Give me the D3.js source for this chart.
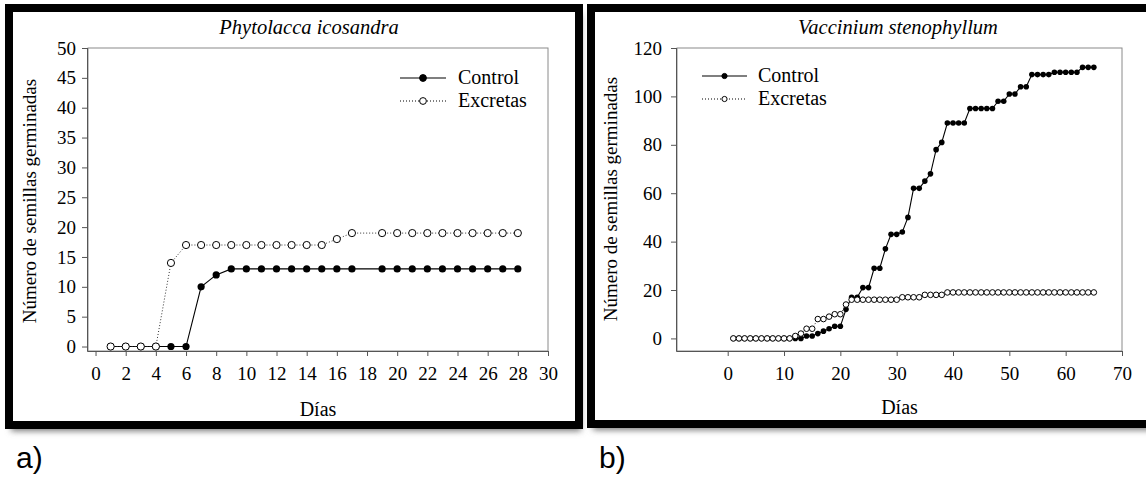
<!DOCTYPE html>
<html>
<head>
<meta charset="utf-8">
<script src="https://cdn.jsdelivr.net/npm/d3@7/dist/d3.min.js"></script>
<style>
  body { margin: 0; background: #fff; }
  svg text { font-family: "Liberation Serif", "Times New Roman", Times, serif; }
  svg text.tag { font-family: "Liberation Sans", Arial, sans-serif; }
</style>
</head>
<body>
<div id="chart"></div>
<script>
// a) Phytolacca icosandra
const daysA = [1, 2, 3, 4, 5, 6, 7, 8, 9, 10, 11, 12, 13, 14, 15, 16, 17, 19, 20, 21, 22, 23, 24, 25, 26, 27, 28];
const controlA = [0, 0, 0, 0, 0, 0, 10, 12, 13, 13, 13, 13, 13, 13, 13, 13, 13, 13, 13, 13, 13, 13, 13, 13, 13, 13, 13];
const excretasA = [0, 0, 0, 0, 14, 17, 17, 17, 17, 17, 17, 17, 17, 17, 17, 18, 19, 19, 19, 19, 19, 19, 19, 19, 19, 19, 19];
const xTicksA = [0, 2, 4, 6, 8, 10, 12, 14, 16, 18, 20, 22, 24, 26, 28, 30];
const yTicksA = [0, 5, 10, 15, 20, 25, 30, 35, 40, 45, 50];

// b) Vaccinium stenophyllum
const daysB = [1, 2, 3, 4, 5, 6, 7, 8, 9, 10, 11, 12, 13, 14, 15, 16, 17, 18, 19, 20,
  21, 22, 23, 24, 25, 26, 27, 28, 29, 30, 31, 32, 33, 34, 35, 36, 37, 38, 39, 40,
  41, 42, 43, 44, 45, 46, 47, 48, 49, 50, 51, 52, 53, 54, 55, 56, 57, 58, 59, 60,
  61, 62, 63, 64, 65];
const controlB = [0, 0, 0, 0, 0, 0, 0, 0, 0, 0, 0, 0, 0, 1, 1, 2, 3, 4, 5, 5,
  12, 17, 17, 21, 21, 29, 29, 37, 43, 43, 44, 50, 62, 62, 65, 68, 78, 81, 89, 89,
  89, 89, 95, 95, 95, 95, 95, 98, 98, 101, 101, 104, 104, 109, 109, 109, 109, 110, 110, 110,
  110, 110, 112, 112, 112];
const excretasB = [0, 0, 0, 0, 0, 0, 0, 0, 0, 0, 0, 1, 2, 4, 4, 8, 8, 9, 10, 10,
  14, 16, 16, 16, 16, 16, 16, 16, 16, 16, 17, 17, 17, 17, 18, 18, 18, 18, 19, 19,
  19, 19, 19, 19, 19, 19, 19, 19, 19, 19, 19, 19, 19, 19, 19, 19, 19, 19, 19, 19,
  19, 19, 19, 19, 19];
const xTicksB = [0, 10, 20, 30, 40, 50, 60, 70];
const yTicksB = [0, 20, 40, 60, 80, 100, 120];

const width = 1146, height = 479;

const svg = d3.select("#chart").append("svg")
  .attr("width", width)
  .attr("height", height);

// sombra de los marcos
const defs = svg.append("defs");
defs.append("filter").attr("id", "blur")
  .attr("x", "-10%").attr("y", "-10%").attr("width", "120%").attr("height", "130%")
  .append("feGaussianBlur").attr("stdDeviation", 3);

function drawPanel(cfg) {
  const g = svg.append("g");

  // marco negro con sombra
  g.append("rect")
    .attr("x", cfg.frame[0] + 2).attr("y", cfg.frame[1] + 6)
    .attr("width", cfg.frame[2]).attr("height", cfg.frame[3])
    .attr("fill", "#777")
    .attr("filter", "url(#blur)");
  g.append("rect")
    .attr("x", cfg.frame[0]).attr("y", cfg.frame[1])
    .attr("width", cfg.frame[2]).attr("height", cfg.frame[3])
    .attr("fill", "#fff")
    .attr("stroke", "#000")
    .attr("stroke-width", 8);

  const x = d3.scaleLinear().domain(cfg.xDomain).range([cfg.left, cfg.right]);
  const y = d3.scaleLinear().domain(cfg.yDomain).range([cfg.bottom, cfg.top]);

  // caja del área de trazado
  g.append("rect")
    .attr("x", cfg.left).attr("y", cfg.top)
    .attr("width", cfg.right - cfg.left).attr("height", cfg.bottom - cfg.top)
    .attr("fill", "none")
    .attr("stroke", "#8a8a8a")
    .attr("stroke-width", 1);

  const xAxis = g.append("g")
    .attr("transform", `translate(0, ${cfg.bottom})`)
    .call(d3.axisBottom(x).tickValues(cfg.xTicks).tickSizeInner(5).tickSizeOuter(0).tickPadding(11));
  const yAxis = g.append("g")
    .attr("transform", `translate(${cfg.left}, 0)`)
    .call(d3.axisLeft(y).tickValues(cfg.yTicks).tickSizeInner(6).tickSizeOuter(0).tickPadding(cfg.yPad));

  [xAxis, yAxis].forEach((ax) => {
    ax.attr("font-family", null).attr("font-size", null);
    ax.select(".domain").attr("stroke", "#555");
    ax.selectAll(".tick line").attr("stroke", "#555");
    ax.selectAll("text")
      .attr("fill", "#000")
      .style("font-size", cfg.tickFont + "px");
  });
  // el eje x arranca en el borde izquierdo de la caja
  xAxis.select(".domain").attr("d", `M${cfg.left - 0.5},0.5H${cfg.right + 0.5}`);
  yAxis.select(".domain").attr("d", `M-0.5,${cfg.top}V${cfg.bottom + 0.5}`);

  // título
  g.append("text")
    .attr("x", cfg.titleX)
    .attr("y", cfg.titleY)
    .attr("text-anchor", "middle")
    .style("font-style", "italic")
    .style("font-size", "20.5px")
    .text(cfg.title);

  g.append("text")
    .attr("x", (cfg.left + cfg.right) / 2)
    .attr("y", cfg.xLabelY)
    .attr("text-anchor", "middle")
    .style("font-size", "20px")
    .text("Días");

  g.append("text")
    .attr("transform", `translate(${cfg.yLabelX}, ${cfg.yLabelCY}) rotate(-90)`)
    .attr("text-anchor", "middle")
    .attr("dy", "0.35em")
    .style("font-size", "19px")
    .text("Número de semillas germinadas");

  const control = cfg.days.map((d, i) => ({ d, v: cfg.control[i] }));
  const excretas = cfg.days.map((d, i) => ({ d, v: cfg.excretas[i] }));
  const line = d3.line().x((p) => x(p.d)).y((p) => y(p.v));

  g.append("path").datum(control)
    .attr("fill", "none").attr("stroke", "#000").attr("stroke-width", 1.1)
    .attr("d", line);
  g.selectAll(null).data(control).enter().append("circle")
    .attr("cx", (p) => x(p.d)).attr("cy", (p) => y(p.v))
    .attr("r", cfg.r).attr("fill", "#000");

  g.append("path").datum(excretas)
    .attr("fill", "none").attr("stroke", "#333").attr("stroke-width", 1)
    .attr("stroke-dasharray", "1,2")
    .attr("d", line);
  g.selectAll(null).data(excretas).enter().append("circle")
    .attr("cx", (p) => x(p.d)).attr("cy", (p) => y(p.v))
    .attr("r", cfg.r).attr("fill", "#fff").attr("stroke", "#000").attr("stroke-width", 1);

  // leyenda
  const lg = g.append("g");
  const items = [
    { name: "Control", cy: cfg.legend.y1, dash: null, fill: "#000" },
    { name: "Excretas", cy: cfg.legend.y2, dash: "1,2", fill: "#fff" },
  ];
  items.forEach((it) => {
    lg.append("line")
      .attr("x1", cfg.legend.x1).attr("x2", cfg.legend.x2)
      .attr("y1", it.cy).attr("y2", it.cy)
      .attr("stroke", "#000").attr("stroke-width", 1.1)
      .attr("stroke-dasharray", it.dash);
    lg.append("circle")
      .attr("cx", (cfg.legend.x1 + cfg.legend.x2) / 2).attr("cy", it.cy)
      .attr("r", cfg.legend.r).attr("fill", it.fill).attr("stroke", "#000");
    lg.append("text")
      .attr("x", cfg.legend.tx).attr("y", it.cy)
      .attr("dy", "0.32em")
      .style("font-size", "20px")
      .text(it.name);
  });

  svg.append("text")
    .attr("class", "tag")
    .attr("x", cfg.tag[0]).attr("y", cfg.tag[1])
    .style("font-size", "30px")
    .text(cfg.tagText);
}

drawPanel({
  frame: [9, 8, 570, 417],
  left: 88, right: 548, top: 48, bottom: 351,
  xDomain: [-0.5, 30], yDomain: [-0.75, 50],
  xTicks: xTicksA, yTicks: yTicksA, tickFont: 19, yPad: 6,
  days: daysA, control: controlA, excretas: excretasA, r: 3.6,
  title: "Phytolacca icosandra", titleX: 309, titleY: 34, xLabelY: 416,
  yLabelX: 29, yLabelCY: 201,
  legend: { x1: 400, x2: 446, tx: 458, y1: 78, y2: 101, r: 3.4 },
  tag: [16, 468], tagText: "a)",
});

drawPanel({
  frame: [591, 8, 562, 416],
  left: 677, right: 1122, top: 48, bottom: 351,
  xDomain: [-9, 70], yDomain: [-5.2, 120],
  xTicks: xTicksB, yTicks: yTicksB, tickFont: 19, yPad: 9,
  days: daysB, control: controlB, excretas: excretasB, r: 2.8,
  title: "Vaccinium stenophyllum", titleX: 898, titleY: 34, xLabelY: 414,
  yLabelX: 610, yLabelCY: 199,
  legend: { x1: 702, x2: 747, tx: 758, y1: 76, y2: 99, r: 2.6 },
  tag: [599, 468], tagText: "b)",
});
</script>
</body>
</html>
